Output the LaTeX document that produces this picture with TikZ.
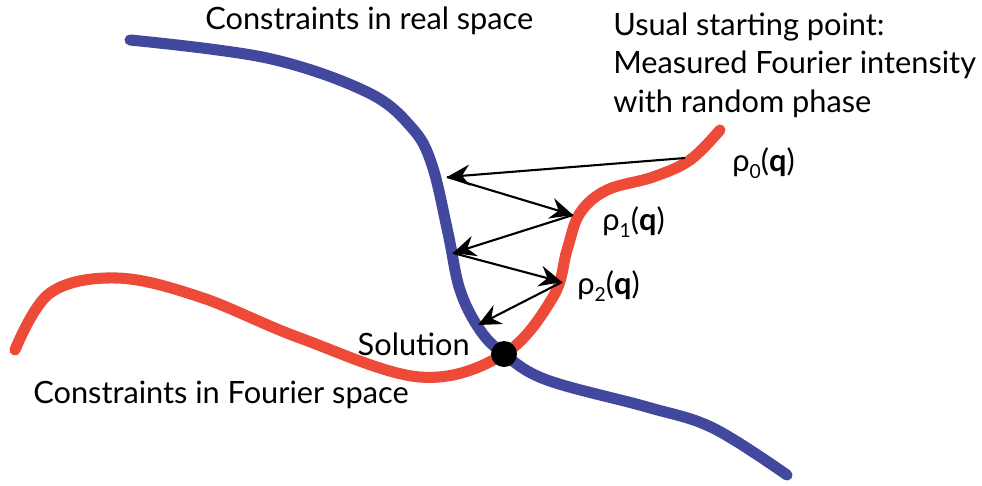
\documentclass[tikz,border=0pt]{standalone}
\usepackage{fontspec}
\setmainfont{Lato}
\usepackage{xcolor}
\usetikzlibrary{arrows.meta, positioning}

\definecolor{realblue}{RGB}{66,72,158}
\definecolor{fourierred}{RGB}{238,74,56}

\tikzset{
  constraint/.style={line width=6.3pt, line cap=round},
  step arrow/.style={-{Stealth[length=13pt, width=12pt, inset=4.5pt]}, line width=1.2pt},
  label/.style={inner sep=0pt, anchor=west},
}
\newcommand{\rhoq}[1]{ρ\raisebox{-0.45ex}{\fontsize{11}{11}\selectfont #1}(\textbf{q})}

\begin{document}
\begin{tikzpicture}[x=0.02cm, y=-0.02cm, font=\fontsize{17.5}{21}\selectfont]
			\useasboundingbox (0,0) rectangle (982,485);
			% constraint curves
			\draw[constraint, realblue] plot[smooth, tension=0.6] coordinates {(130,40) (267,58) (367,92) (412,128) (432,165) (448,233) (460,290) (480,330) (504,354) (547,380) (647,407) (713,428) (787,475)};
			\draw[constraint, fourierred] plot[smooth, tension=0.6] coordinates {(15,350) (50,293) (117,278) (200,297) (300,338) (420,377) (504,354) (553,297) (567,250) (580,213) (607,190) (653,177) (690,160) (720,130)};
			% iterates
			\coordinate (rho0) at (685,158);
			\coordinate (b1) at (447,177);
			\coordinate (rho1) at (573,215);
			\coordinate (b2) at (453,253);
			\coordinate (rho2) at (562,282);
			\coordinate (b3) at (478,325);
			\draw[step arrow] (rho0) -- (b1);
			\draw[step arrow] (b1) -- (rho1);
			\draw[step arrow] (rho1) -- (b2);
			\draw[step arrow] (b2) -- (rho2);
			\draw[step arrow] (rho2) -- (b3);
			\fill (504,354) circle (13) node (sol) {};
			% labels
			\node[label] (realspace) at (205,21) {Constraints in real space};
			\node[label] (fourierspace) at (33,395) {Constraints in Fourier space};
			\node[label, anchor=east] (solution) at (470,344) {Solution};
			\node[label, anchor=north west, align=left, font=\fontsize{17.5}{22}\selectfont] (start) at (613,12) {Usual starting point:\\Measured Fourier intensity\\with random phase};
			\node[label] (r0) at (732,163) {\rhoq{0}};
			\node[label] (r1) at (602,222) {\rhoq{1}};
			\node[label] (r2) at (577,286) {\rhoq{2}};
		\end{tikzpicture}
\end{document}
